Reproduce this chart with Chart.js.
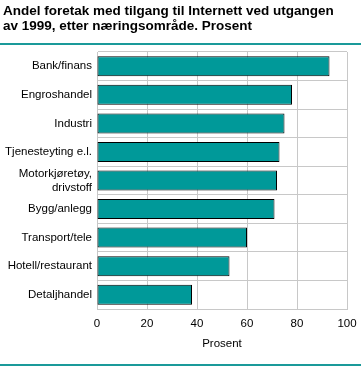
<!DOCTYPE html>
<html>
<head>
<meta charset="utf-8">
<script src="https://cdn.jsdelivr.net/npm/chart.js@4/dist/chart.umd.min.js"></script>
<style>
  html, body { margin: 0; padding: 0; background: #fff; }
  #wrap { position: relative; width: 361px; height: 366px; overflow: hidden; }
  #title { position: absolute; left: 3px; top: 3px; font: bold 13.5px "Liberation Sans", Arial, sans-serif; line-height: 15px; color: #000; white-space: nowrap; }
  .rule { position: absolute; left: 0; width: 361px; height: 2px; background: #1a9a9a; }
  canvas { position: absolute; left: 0; top: 0; }
</style>
</head>
<body>
<div id="wrap">
  <canvas id="c" width="361" height="366"></canvas>
  <div id="title">Andel foretak med tilgang til Internett ved utgangen<br>av 1999, etter næringsområde. Prosent</div>
  <div class="rule" style="top:43px"></div>
  <div class="rule" style="top:364px"></div>
</div>
<script>
const categories = ["Bank/finans", "Engroshandel", "Industri", "Tjenesteyting e.l.", ["Motorkjøretøy,", "drivstoff"], "Bygg/anlegg", "Transport/tele", "Hotell/restaurant", "Detaljhandel"];
const values = [93, 78, 75, 73, 72, 71, 60, 53, 38];
const xTicks = [0, 20, 40, 60, 80, 100];
const axisTitle = "Prosent";

const font = { family: '"Liberation Sans", Arial, sans-serif', size: 11.5 };

new Chart(document.getElementById('c'), {
  type: 'bar',
  data: {
    labels: categories,
    datasets: [{
      data: values,
      backgroundColor: '#009999',
      borderColor: '#000000',
      borderWidth: 1,
      borderSkipped: false,
      barPercentage: 0.7,
      categoryPercentage: 1.0
    }]
  },
  options: {
    indexAxis: 'y',
    responsive: false,
    animation: false,
    devicePixelRatio: 1,
    layout: { padding: { top: 52, right: 14, left: 0, bottom: 0 } },
    plugins: { legend: { display: false }, tooltip: { enabled: false }, title: { display: false } },
    scales: {
      x: {
        min: 0, max: 100,
        afterBuildTicks: (s) => { s.ticks = xTicks.map(v => ({ value: v })); },
        afterFit: (s) => { s.height = 57; s.paddingLeft = 0; s.paddingRight = 0; },
        grid: { color: '#c8c8c8', lineWidth: 1, drawTicks: false },
        border: { color: '#c8c8c8' },
        ticks: { color: '#000', font: font, padding: 8, maxRotation: 0 },
        title: { display: true, text: axisTitle, color: '#000', font: font, padding: { top: 6, bottom: 15 } }
      },
      y: {
        afterFit: (s) => { s.width = 97; s.paddingTop = 0; s.paddingBottom = 0; },
        grid: { color: '#c8c8c8', lineWidth: 1, drawTicks: false, offset: true },
        border: { color: '#c8c8c8' },
        ticks: { color: '#000', font: font, padding: 5, autoSkip: false }
      }
    }
  }
});
</script>
</body>
</html>
